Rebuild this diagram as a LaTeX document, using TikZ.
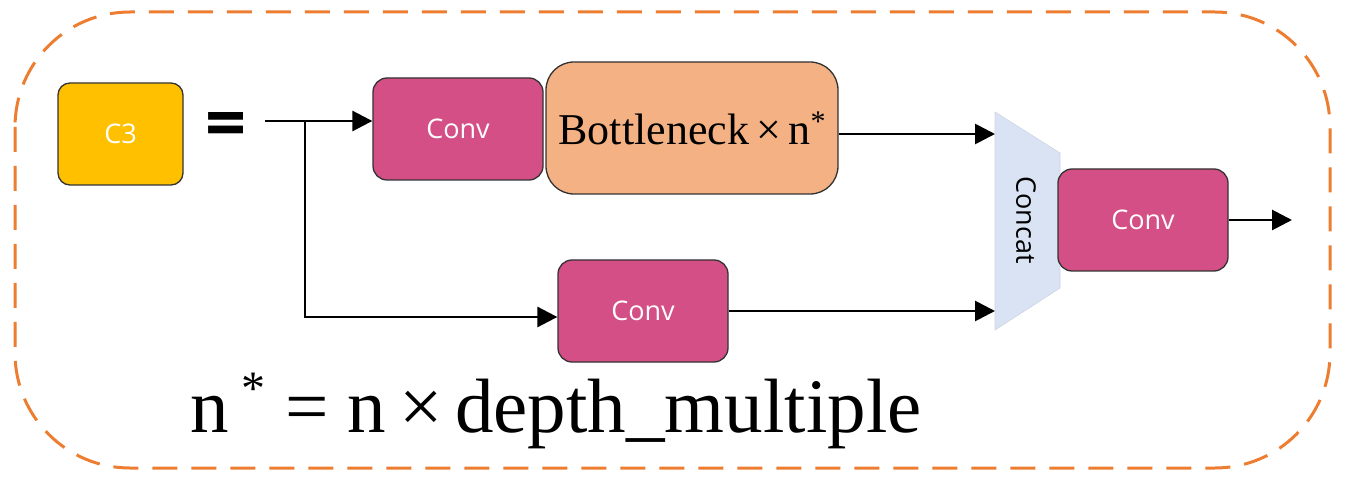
\documentclass[tikz,border=0pt]{standalone}
\usepackage{fontspec}
\setmainfont{Liberation Serif}
\newfontfamily\boxfont{Open Sans}
\usetikzlibrary{arrows.meta}
\definecolor{c3yellow}{HTML}{FFC000}
\definecolor{convpink}{HTML}{D44F86}
\definecolor{bnorange}{HTML}{F4B183}
\definecolor{catblue}{HTML}{DAE3F3}
\definecolor{frameorange}{HTML}{ED7D31}

\begin{document}
\begin{tikzpicture}[x = 1pt, y = -1pt,
        block/.style = {draw = black!80, line width = 1.3pt, rounded corners = 14pt, inner sep = 0pt,
            minimum width = 170pt, minimum height = 102pt, font = \boxfont\fontsize{27}{30}\selectfont, text = white},
        conv/.style = {block, fill = convpink},
        link/.style = {line width = 2.8pt, -{Triangle[length = 20pt, width = 20pt]}}]
        \useasboundingbox (0, 0) rectangle (1347, 494);
        \draw[frameorange, line width = 3pt, dash pattern = on 25pt off 14pt, rounded corners = 115pt] (15, 12) rectangle (1330, 468);
        \node[block, fill = c3yellow, minimum width = 125pt, minimum height = 102pt, rounded corners = 12pt] (c3) at (120.5, 134) {C3};
        \node[anchor = base] (eq) at (226, 149) {\boxfont\bfseries\fontsize{72}{80}\selectfont =};
        \node[conv] (conv1) at (458, 129) {Conv};
        \node[block, fill = bnorange, minimum width = 292pt, minimum height = 132pt, rounded corners = 28pt, font = \fontsize{44}{48}\selectfont, text = black] (bneck) at (692, 128) {Bottleneck\,×\,n\raisebox{13pt}{\fontsize{30}{30}\selectfont *}};
        \node[conv] (conv2) at (643, 311) {Conv};
        \filldraw[fill = catblue, draw = catblue!85!gray, line width = 0.6pt] (995, 112) -- (1060, 153) -- (1060, 288) -- (995, 330) -- cycle;
        \node[rotate = -90, font = \boxfont\fontsize{27}{30}\selectfont] (cat) at (1026, 220) {Concat};
        \node[conv] (conv3) at (1143, 220) {Conv};
        \coordinate (in) at (265, 121);
        \coordinate (split) at (305, 121);
        \coordinate (catin1) at (995, 134);
        \coordinate (catin2) at (995, 311);
        \coordinate (out) at (1292, 220);
        \draw[link] (in) -- (in -| conv1.west);
        \draw[link] (split) |- ([yshift = -6pt]conv2.west);
        \draw[link] (catin1 -| bneck.east) -- (catin1);
        \draw[link] (conv2.east) -- (catin2);
        \draw[link] (conv3.east) -- (out);
        \node[anchor = base, font = \fontsize{77}{80}\selectfont] (formula) at (556, 432) {n\,\raisebox{28pt}{\fontsize{48}{48}\selectfont *} = n\,×\,depth\_multiple};
    \end{tikzpicture}
\end{document}
